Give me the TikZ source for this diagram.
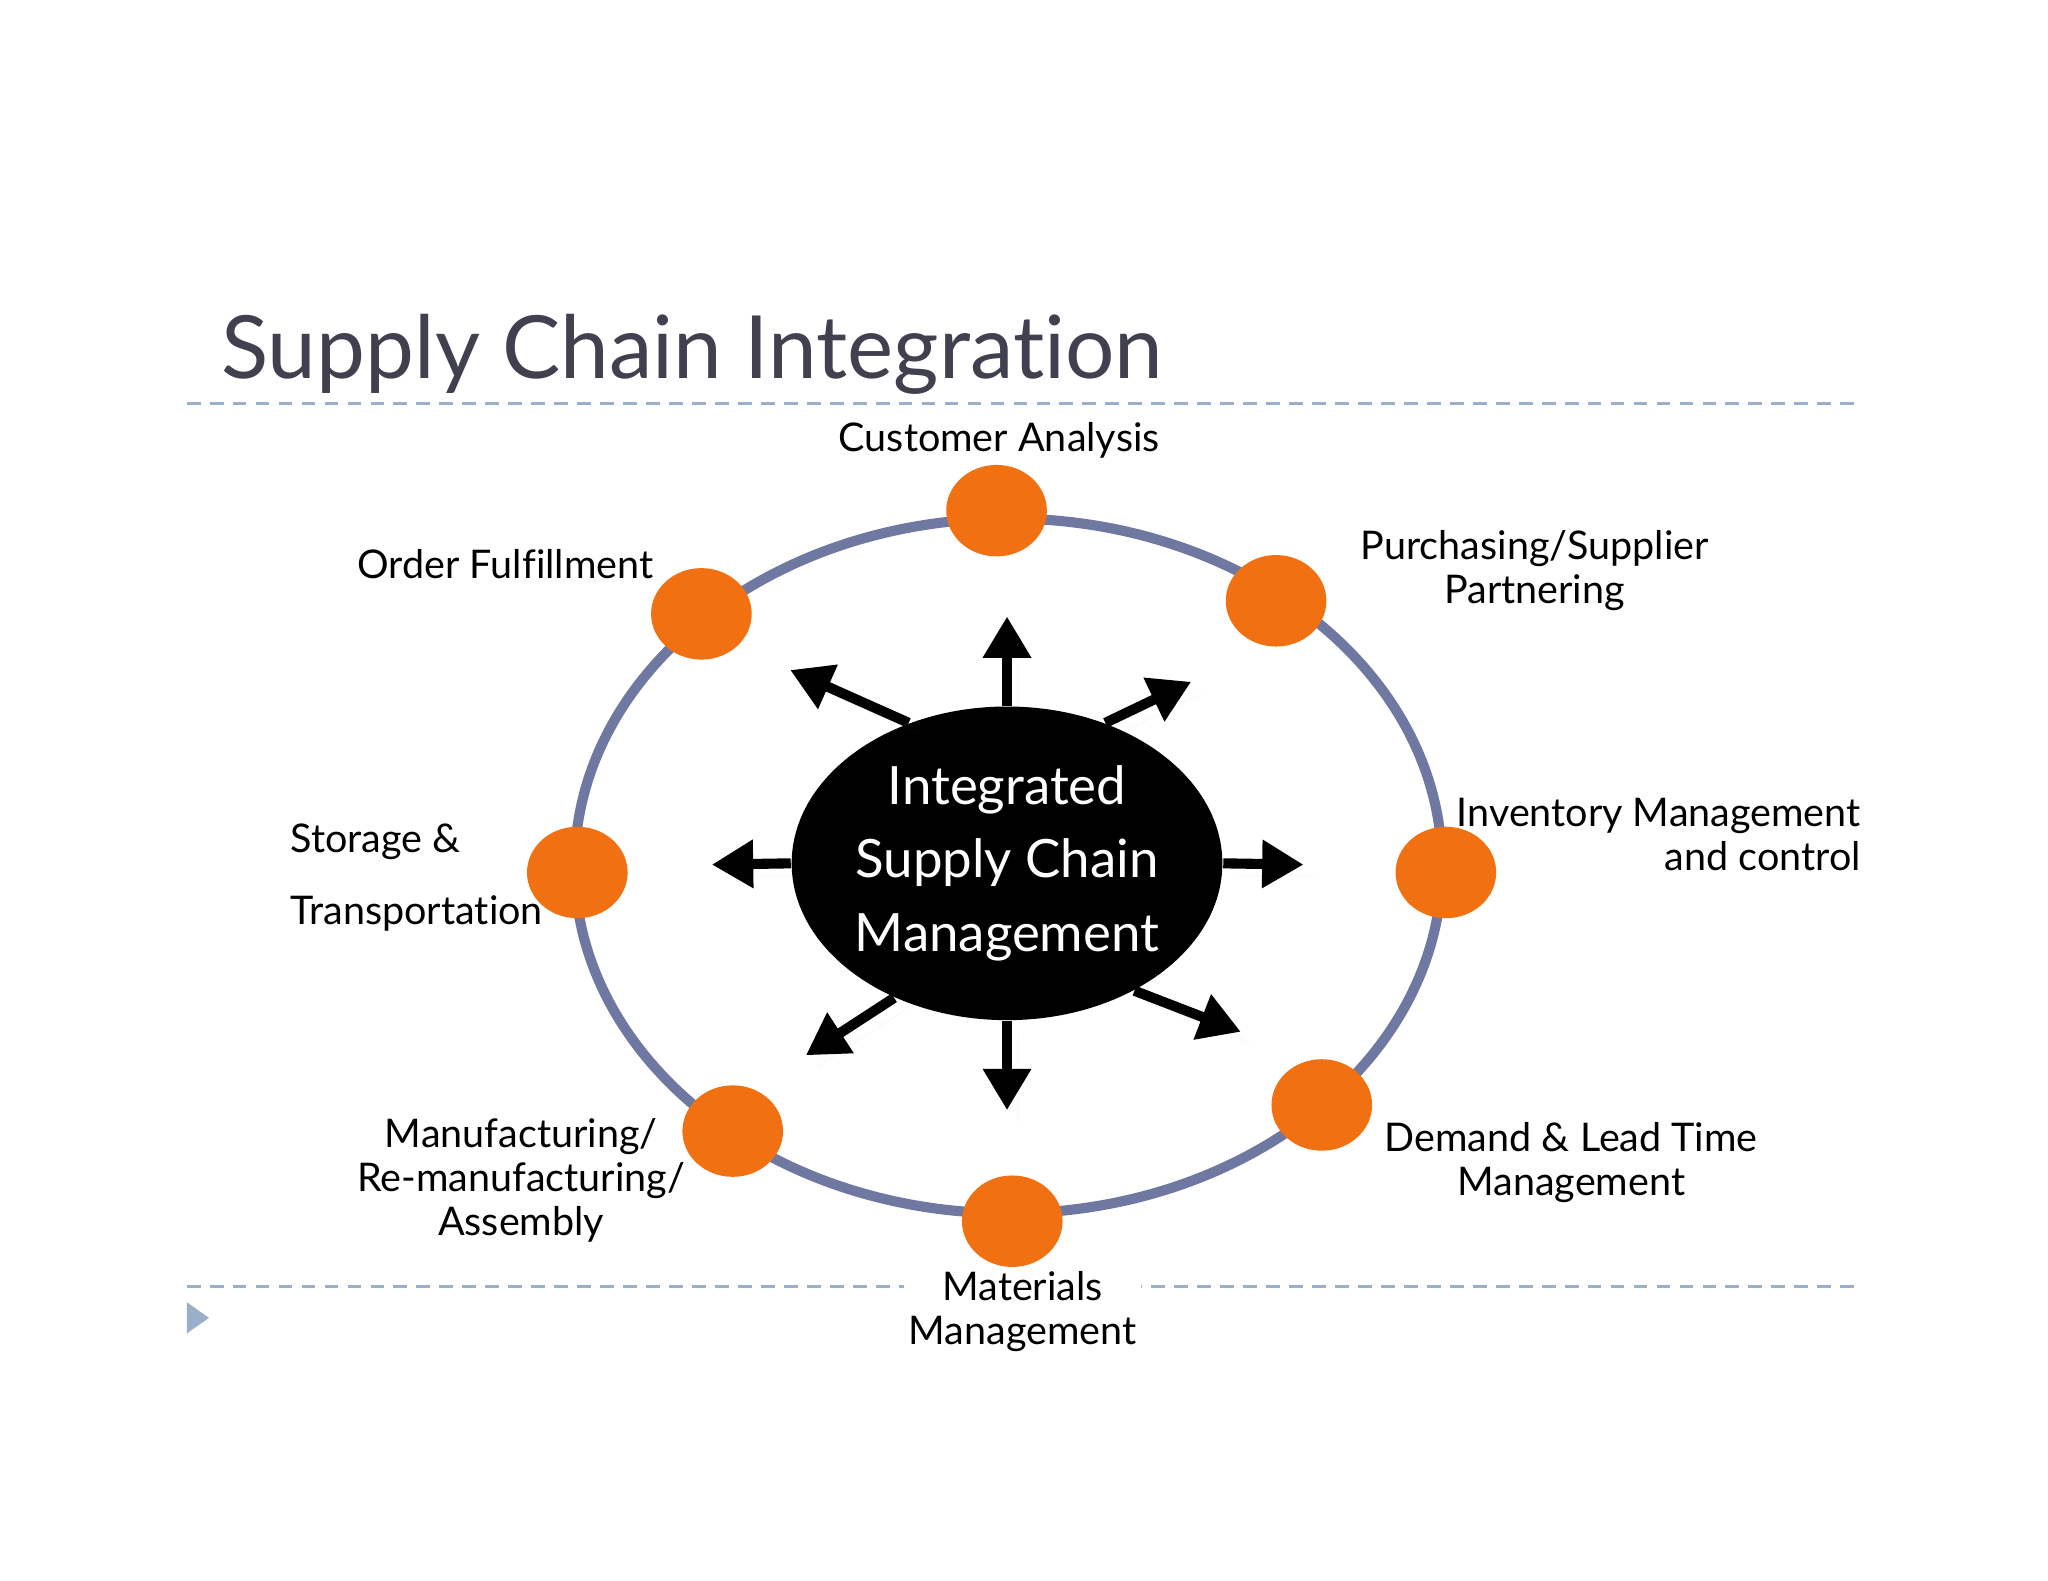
\documentclass[tikz,border=0pt]{standalone}
\usepackage{fontspec}
\setmainfont{Lato}[Ligatures=NoCommon]
\usetikzlibrary{arrows.meta,shadows,shapes.geometric}
\definecolor{orng}{HTML}{F07012}
\definecolor{ring}{HTML}{6E78A0}
\definecolor{sepcol}{HTML}{9AAFC8}
\definecolor{ttl}{HTML}{40404E}
\begin{document}
\begin{tikzpicture}[x=0.01cm,y=-0.01cm,
  dot/.style={ellipse,fill=orng,minimum width=0.77cm,minimum height=0.7cm,inner sep=0},
  lbl/.style={font=\fontsize{8.6}{9.6}\selectfont,align=center},
  arr/.style={line width=2.2pt,-{Triangle[length=9pt,width=10pt]},drop shadow={opacity=0.3}},
  sep/.style={draw=sepcol,densely dashed,line width=0.6pt}]
\useasboundingbox (0,0) rectangle (1568,1210);
\node[anchor=base west,text=ttl,font=\fontsize{19}{22}\selectfont] (title) at (157,290) {Supply Chain Integration};
\draw[sep] (143,309) -- (1425,309);
\draw[sep] (143,985) -- (1425,985);
\fill[sepcol] (143,997) -- (160,1009) -- (143,1021) -- cycle;
\draw[ring,line width=2.2pt] (772,663) ellipse [x radius=332,y radius=266];
\node[ellipse,fill=black,minimum width=2.9cm,minimum height=2.4cm,inner sep=0,text=white,align=center,font=\fontsize{11.5}{16}\selectfont] (c) at (771,661) {Integrated\\Supply Chain\\Management};
\foreach \n/\x/\y in {a/763/391,b/977/460,i/1107/668,d/1012/846,m/775/935,f/561/866,s/442/668,o/537/470}
  \node[dot] (\n) at (\x,\y) {};
\coordinate (tu) at (771,472); \coordinate (td) at (771,850);
\coordinate (tl) at (545,662); \coordinate (tr) at (998,662);
\coordinate (tnw) at (605,513); \coordinate (tne) at (912,522);
\coordinate (tse) at (950,790); \coordinate (tsw) at (617,808);
\draw[arr] (c.north) -- (tu);
\draw[arr] (c.south) -- (td);
\draw[arr] (c.west) -- (tl);
\draw[arr] (c.east) -- (tr);
\draw[arr] (c.125) -- (tnw);
\draw[arr] (c.55) -- (tne);
\draw[arr] (c.-45) -- (tse);
\draw[arr] (c.-130) -- (tsw);
\node[lbl] (la) at (765,337) {Customer Analysis};
\node[lbl] (lb) at (1175,437) {Purchasing/Supplier\\Partnering};
\node[lbl,align=right,anchor=east] (li) at (1437,639) {Inventory Management\\and control};
\node[lbl] (ld) at (1203,890) {Demand \& Lead Time\\Management};
\node[lbl,fill=white,inner sep=1pt] (lm) at (783,1004) {Materials\\Management};
\node[lbl] (lf) at (399,904) {Manufacturing/\\Re-manufacturing/\\Assembly};
\node[lbl,align=left,anchor=west] (ls) at (210,672) {Storage \&\\[6pt]Transportation};
\node[lbl] (lo) at (387,432) {Order Fulfillment};
\end{tikzpicture}
\end{document}
